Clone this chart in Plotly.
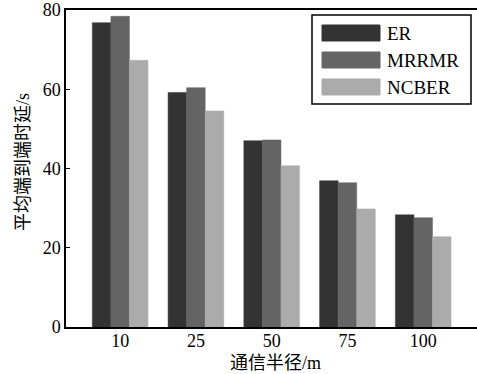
import plotly.graph_objects as go

# Communication radius groups (m)
radius = ["10", "25", "50", "75", "100"]
# Average end-to-end delay (s) per routing scheme
er = [76.8, 59.2, 47.0, 36.9, 28.3]
mrrmr = [78.4, 60.4, 47.2, 36.4, 27.6]
ncber = [67.3, 54.5, 40.7, 29.8, 22.8]

series_names = ["ER", "MRRMR", "NCBER"]
series_values = [er, mrrmr, ncber]
series_colors = ["#333333", "#646464", "#ababab"]

FONT = "Liberation Serif, Times New Roman, Noto Sans CJK SC, serif"

fig = go.Figure()
for name, vals, col in zip(series_names, series_values, series_colors):
    fig.add_trace(go.Bar(
        x=list(range(len(radius))), y=vals, name=name,
        marker=dict(color=col, line=dict(color=col, width=0.5)),
        showlegend=False,
    ))

# Pixel-to-paper helpers for the boxed legend and axis titles
W, H = 477, 374
ml, mt, mb = 66, 10, 47
pw, ph = W - ml, H - mt - mb

def px(x):
    return (x - ml) / pw

def py(y):
    return 1 - (y - mt) / ph

shapes = [dict(type="rect", xref="paper", yref="paper",
               x0=px(312), x1=px(471), y0=py(104), y1=py(15),
               line=dict(color="black", width=1.5), fillcolor="white", layer="above")]
annotations = []
for i, (name, col) in enumerate(zip(series_names, series_colors)):
    yc = 33 + i * 27
    shapes.append(dict(type="rect", xref="paper", yref="paper",
                       x0=px(322), x1=px(380), y0=py(yc + 8), y1=py(yc - 8),
                       line=dict(color=col, width=1), fillcolor=col, layer="above"))
    annotations.append(dict(xref="paper", yref="paper", x=px(385), y=py(yc),
                            text=name, showarrow=False, xanchor="left", yanchor="middle",
                            font=dict(family=FONT, size=19, color="black")))

# Axis titles
annotations.append(dict(xref="paper", yref="paper", x=px(275), y=py(374),
                        text="通信半径/m", showarrow=False,
                        xanchor="center", yanchor="bottom", borderpad=0,
                        font=dict(family=FONT, size=18, color="black")))
annotations.append(dict(xref="paper", yref="paper", x=px(23), y=py(162),
                        text="平均端到端时延/s", showarrow=False, textangle=-90,
                        xanchor="center", yanchor="middle",
                        font=dict(family=FONT, size=18, color="black")))

fig.update_layout(
    width=W, height=H,
    margin=dict(l=ml, r=0, t=mt, b=mb),
    paper_bgcolor="white", plot_bgcolor="white",
    barmode="group", bargap=0.265, bargroupgap=0,
    font=dict(family=FONT, size=18, color="black"),
    shapes=shapes, annotations=annotations,
    xaxis=dict(
        tickmode="array", tickvals=list(range(len(radius))), ticktext=radius,
        range=[-0.715, 4.71], showgrid=False, zeroline=False,
        showline=True, linecolor="black", linewidth=1.5, mirror=True,
        ticks="", tickfont=dict(size=18), automargin=False, ticklabelstandoff=-3,
    ),
    yaxis=dict(
        range=[0, 80], tickvals=[0, 20, 40, 60, 80], showgrid=False, zeroline=False,
        showline=True, linecolor="black", linewidth=1.5,
        ticks="inside", ticklen=4, tickcolor="black", tickfont=dict(size=18),
        automargin=False,
    ),
)

fig.write_html("out.html")
